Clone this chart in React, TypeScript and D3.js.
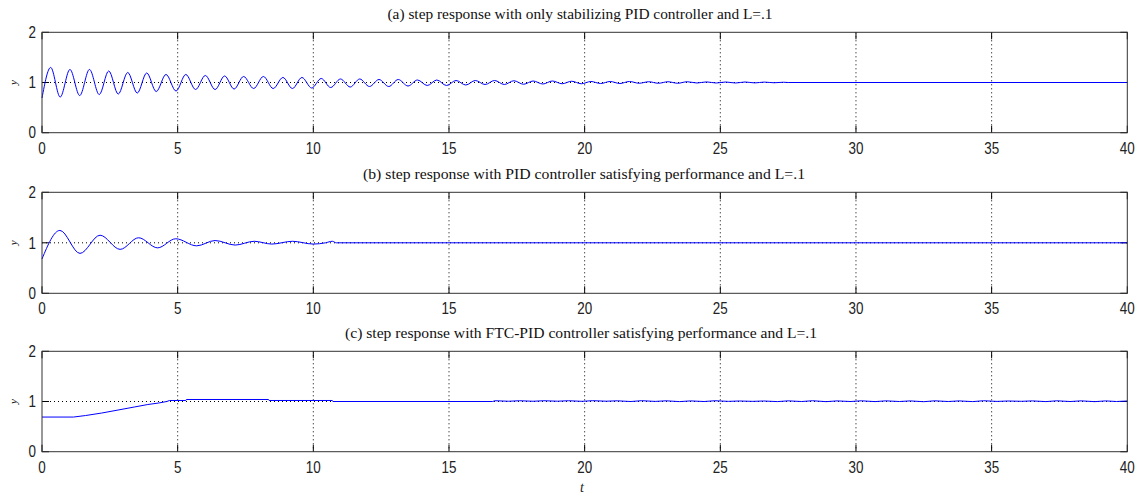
import React from "react";
import * as d3 from "d3";

const xTicks = [0, 5, 10, 15, 20, 25, 30, 35, 40];
const yTicks = [0, 1, 2];
const titles = [
  "(a) step response with only stabilizing PID controller and L=.1",
  "(b) step response with PID controller satisfying performance and L=.1",
  "(c) step response with FTC-PID controller satisfying performance and L=.1",
];

// (a) only stabilizing PID
const aT = [0, 0.32, 0.67, 1.03, 1.39, 1.75, 2.11, 2.46, 2.81, 3.16, 3.51, 3.86, 4.21, 4.57, 4.94, 5.30, 5.66, 6.02, 6.38, 6.73, 7.08, 7.43, 7.80, 8.16, 8.52, 8.88, 9.23, 9.58, 9.94, 10.29, 10.64, 11.00, 11.36, 11.71, 12.07, 12.42, 12.78, 13.13, 13.49, 13.84, 14.20, 14.55, 14.91, 15.26, 15.62, 15.97, 16.33, 16.68, 17.04, 17.39, 17.75, 18.10, 18.46, 18.81, 19.17, 19.52, 19.88, 20.23, 20.59, 20.94, 21.30, 21.65, 22.01, 22.36, 22.72, 23.07, 23.43, 23.78, 24.14, 24.49, 24.85, 25.20, 25.56, 25.91, 26.27, 26.62, 26.98, 27.33, 27.5, 40];
const aY = [0.69, 1.30, 0.71, 1.26, 0.74, 1.26, 0.76, 1.23, 0.77, 1.20, 0.79, 1.19, 0.82, 1.16, 0.83, 1.16, 0.86, 1.14, 0.86, 1.13, 0.87, 1.12, 0.88, 1.12, 0.88, 1.10, 0.88, 1.10, 0.89, 1.08, 0.90, 1.07, 0.91, 1.07, 0.92, 1.06, 0.92, 1.06, 0.93, 1.05, 0.94, 1.05, 0.94, 1.04, 0.95, 1.04, 0.96, 1.04, 0.96, 1.035, 0.965, 1.03, 0.97, 1.03, 0.975, 1.025, 0.975, 1.02, 0.98, 1.02, 0.98, 1.02, 0.985, 1.015, 0.985, 1.015, 0.985, 1.015, 0.99, 1.012, 0.99, 1.01, 0.99, 1.01, 0.992, 1.008, 0.995, 1.005, 1.0, 1.0];

// (b) PID satisfying performance
const bT = [0, 0.66, 1.40, 2.14, 2.88, 3.56, 4.26, 4.93, 5.70, 6.38, 7.12, 7.82, 8.47, 9.23, 10.0, 10.45, 10.70, 10.85, 40];
const bY = [0.68, 1.245, 0.79, 1.15, 0.87, 1.10, 0.90, 1.08, 0.94, 1.045, 0.955, 1.03, 0.975, 1.03, 0.975, 1.0, 1.03, 1.0, 1.0];

// (c) FTC-PID satisfying performance
const cT = [0, 1.16, 1.6, 2.2, 2.8, 3.4, 3.9, 4.3, 4.6, 4.7, 5.3, 5.32, 8.35, 8.37, 10.7, 10.72, 16.6, 16.7, 17.2, 17.6, 18.1, 18.5, 19.0, 19.4, 19.9, 20.3, 20.8, 21.2, 21.7, 22.1, 22.6, 23.0, 23.5, 23.9, 24.4, 24.8, 25.3, 25.7, 26.2, 26.6, 27.1, 27.5, 28.0, 28.4, 28.9, 29.3, 29.8, 30.2, 30.7, 31.1, 31.6, 32.0, 32.5, 32.9, 33.4, 33.8, 34.3, 34.7, 35.2, 35.6, 36.1, 36.5, 37.0, 37.4, 37.9, 38.3, 38.8, 39.2, 39.6, 40.0];
const cY = [0.69, 0.69, 0.72, 0.77, 0.83, 0.89, 0.94, 0.97, 1.0, 1.02, 1.02, 1.04, 1.04, 1.02, 1.02, 1.0, 1.0, 1.015, 1.005, 1.015, 1.005, 1.015, 1.006, 1.015, 1.004, 1.016, 1.006, 1.014, 1.0, 1.016, 1.002, 1.014, 0.998, 1.012, 1.0, 1.015, 1.003, 1.01, 1.003, 1.01, 0.998, 1.013, 1.0, 1.015, 0.997, 1.012, 1.0, 1.014, 0.998, 1.013, 1.0, 1.012, 0.996, 1.014, 1.0, 1.012, 0.998, 1.015, 1.002, 1.01, 1.004, 1.012, 0.998, 1.014, 1.0, 1.013, 0.997, 1.012, 1.0, 1.01];

const W = 1139;
const H = 494;
const X0 = 42;
const X1 = 1127.3;

const panels = [
  { t: aT, y: aY, top: 32.3, bottom: 132.7, titleX: 580, titleY: 19, titleLen: 385, curve: d3.curveMonotoneX },
  { t: bT, y: bY, top: 192.3, bottom: 293.3, titleX: 584, titleY: 179, titleLen: 442, curve: d3.curveMonotoneX },
  { t: cT, y: cY, top: 351.3, bottom: 451.7, titleX: 581, titleY: 338, titleLen: 472, curve: d3.curveLinear },
];

const tickFont = "'Liberation Sans', Arial, sans-serif";
const serif = "'Liberation Serif', 'Times New Roman', serif";

export default function App() {
  const x = d3.scaleLinear().domain([0, 40]).range([X0, X1]);
  return (
    <svg width={W} height={H} style={{ position: "absolute", left: 0, top: 0, background: "#fff" }}>
      <rect width={W} height={H} fill="#fff" />
      {panels.map((p, pi) => {
        const y = d3.scaleLinear().domain([0, 2]).range([p.bottom, p.top]);
        const data = p.t.map((t, i) => [t, p.y[i]] as [number, number]);
        const line = d3.line<[number, number]>().x((d) => x(d[0])).y((d) => y(d[1])).curve(p.curve);
        return (
          <g key={pi}>
            <text x={p.titleX} y={p.titleY} textAnchor="middle" fontFamily={serif} fontSize={15} fill="#111"
              textLength={p.titleLen} lengthAdjust="spacingAndGlyphs">{titles[pi]}</text>
            {xTicks.slice(1, -1).map((v) => (
              <line key={"gx" + v} x1={x(v)} x2={x(v)} y1={p.top} y2={p.bottom} stroke="#000" strokeWidth={1} strokeDasharray="1,3" />
            ))}
            <line x1={X0} x2={X1} y1={y(1)} y2={y(1)} stroke="#000" strokeWidth={1} strokeDasharray="1,3" />
            {xTicks.map((v) => (
              <g key={"tx" + v}>
                <line x1={x(v)} x2={x(v)} y1={p.bottom} y2={p.bottom - 7} stroke="#000" />
                <line x1={x(v)} x2={x(v)} y1={p.top} y2={p.top + 7} stroke="#000" />
                <text transform={`translate(${x(v)},${p.bottom + 21}) scale(0.84,1)`} textAnchor="middle" fontFamily={tickFont} fontSize={16} fill="#222">{v}</text>
              </g>
            ))}
            {yTicks.map((v) => (
              <g key={"ty" + v}>
                <line x1={X0} x2={X0 + 7} y1={y(v)} y2={y(v)} stroke="#000" />
                <line x1={X1} x2={X1 - 7} y1={y(v)} y2={y(v)} stroke="#000" />
                <text transform={`translate(36,${y(v)}) scale(0.84,1)`} dy="0.36em" textAnchor="end" fontFamily={tickFont} fontSize={16} fill="#222">{v}</text>
              </g>
            ))}
            <path d={line(data) || ""} fill="none" stroke="#0000ff" strokeWidth={1} />
            <rect x={X0} y={p.top} width={X1 - X0} height={p.bottom - p.top} fill="none" stroke="#333" strokeWidth={1} />
            <text transform={`translate(17,${y(1)}) rotate(-90)`} textAnchor="middle" fontFamily={serif} fontStyle="italic" fontSize={11} fill="#222">y</text>
          </g>
        );
      })}
      <text x={582} y={492} textAnchor="middle" fontFamily={serif} fontStyle="italic" fontSize={14} fill="#222">t</text>
    </svg>
  );
}
